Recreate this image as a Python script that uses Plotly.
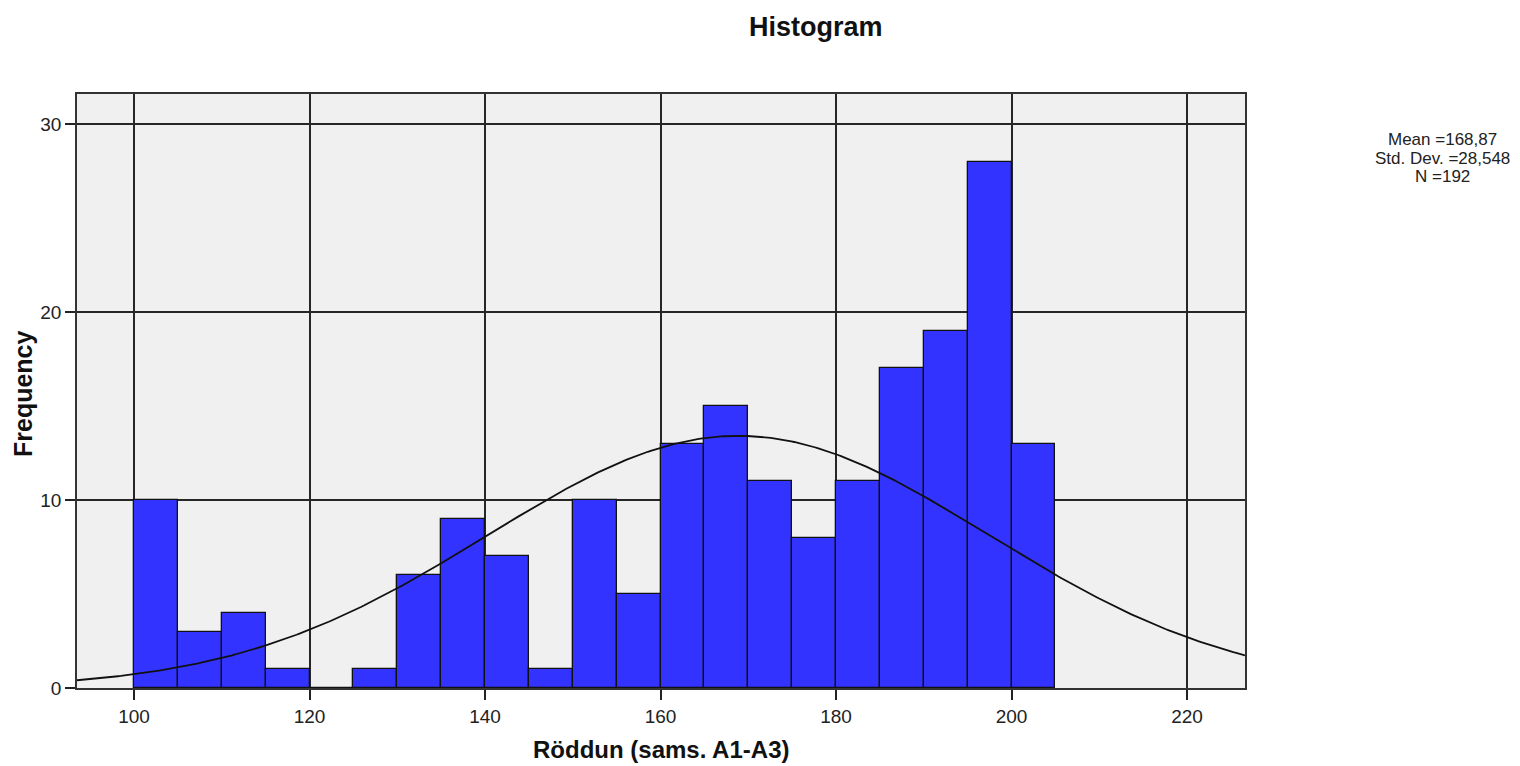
import numpy as np
import plotly.graph_objects as go

bin_starts = [100, 105, 110, 115, 120, 125, 130, 135, 140, 145, 150,
              155, 160, 165, 170, 175, 180, 185, 190, 195, 200]
frequencies = [10, 3, 4, 1, 0, 1, 6, 9, 7, 1, 10,
               5, 13, 15, 11, 8, 11, 17, 19, 28, 13]
bin_width = 5
mean_val = 168.87
std_dev = 28.548
n_obs = 192
x_ticks = [100, 120, 140, 160, 180, 200, 220]
y_ticks = [0, 10, 20, 30]

x_range = [93.5, 226.6]
y_range = [0, 31.6]

centers = [b + bin_width / 2 for b in bin_starts]

xs = np.linspace(x_range[0], x_range[1], 400)
ys = n_obs * bin_width * np.exp(-0.5 * ((xs - mean_val) / std_dev) ** 2) / (std_dev * np.sqrt(2 * np.pi))

FONT = "Liberation Sans, Arial"

fig = go.Figure()
fig.add_trace(go.Bar(
    x=centers, y=frequencies, width=[bin_width] * len(centers),
    marker=dict(color="#3333ff", line=dict(color="#111111", width=1.3)),
    showlegend=False, hoverinfo="x+y",
))
fig.add_trace(go.Scatter(
    x=xs, y=ys, mode="lines", line=dict(color="#111111", width=1.8),
    showlegend=False, hoverinfo="skip",
))

fig.update_layout(
    width=1512, height=758,
    margin=dict(l=69, r=275, t=86, b=78, autoexpand=False),
    paper_bgcolor="white", plot_bgcolor="#f0f0f0",
    bargap=0,
    font=dict(family=FONT, color="#222222"),
)
axis_common = dict(
    ticks="outside", ticklen=10, tickcolor="#222222", tickwidth=1.5,
    tickfont=dict(size=19, color="#222222", family=FONT),
    showgrid=True, gridcolor="#262626", gridwidth=1.6,
    showline=True, linecolor="#333333", linewidth=1.5, mirror=True, zeroline=False,
    automargin=False,
)
fig.update_xaxes(range=x_range, tickvals=x_ticks, **axis_common)
fig.update_yaxes(range=y_range, tickvals=y_ticks, **axis_common)

# Titles (positions in paper coords relative to plot area)
fig.add_annotation(text="<b>Histogram</b>", xref="paper", yref="paper", x=0.6323, y=1.1128,
                   xanchor="center", yanchor="middle", showarrow=False,
                   font=dict(family=FONT, size=27, color="#111111"))
fig.add_annotation(text="<b>Röddun (sams. A1-A3)</b>", xref="paper", yref="paper", x=0.5, y=-0.104,
                   xanchor="center", yanchor="middle", showarrow=False,
                   font=dict(family=FONT, size=24, color="#111111"))
fig.add_annotation(text="<b>Frequency</b>", xref="paper", yref="paper", x=-0.0462, y=0.495,
                   xanchor="center", yanchor="middle", showarrow=False, textangle=-90,
                   font=dict(family=FONT, size=25, color="#111111"))

stats_lines = [
    "Mean =" + f"{mean_val:.2f}".replace(".", ","),
    "Std. Dev. =" + f"{std_dev:.3f}".replace(".", ","),
    f"N ={n_obs}",
]
stats_y = [0.9226, 0.8906, 0.8603]
for line, yy in zip(stats_lines, stats_y):
    fig.add_annotation(text=line, xref="paper", yref="paper", x=1.1691, y=yy,
                       xanchor="center", yanchor="middle", showarrow=False,
                       font=dict(family=FONT, size=17, color="#222222"))

fig.write_html("out.html")
